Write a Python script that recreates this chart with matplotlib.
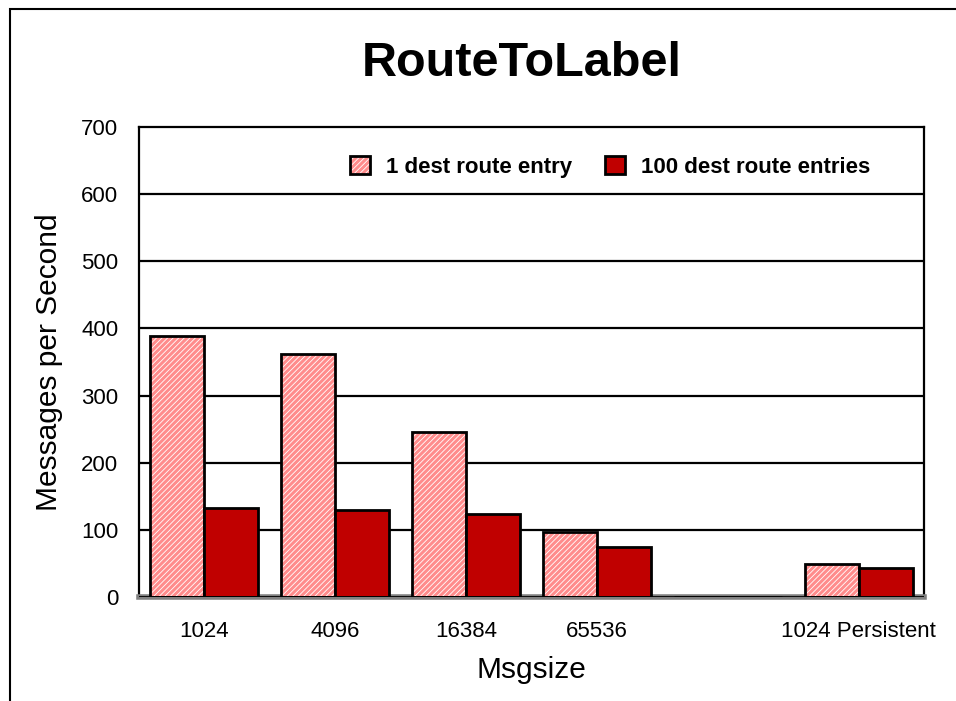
import numpy as np
import matplotlib.pyplot as plt
from matplotlib.patches import Patch, Rectangle
from matplotlib.legend_handler import HandlerTuple

plt.rcParams["font.family"] = ["Liberation Sans", "DejaVu Sans"]
plt.rcParams["hatch.linewidth"] = 0.6

# values
categories = ["1024", "4096", "16384", "65536", "", "1024 Persistent"]
one_dest = [388, 362, 246, 97, 0, 49]
hundred_dest = [132, 129, 124, 74, 0, 43]
series_names = ["1 dest route entry", "100 dest route entries"]

PINK = "#ff8c8c"
RED = "#c00000"

fig = plt.figure(figsize=(9.56, 7.01), dpi=100)
ax = fig.add_axes([139 / 956, 1 - 597 / 701, 785 / 956, 470 / 701])

x = np.arange(len(categories))
w = 0.413

# pink bars: speckled fill first, then the black outline on top
ax.bar(x - w / 2, one_dest, w, color=PINK, edgecolor="white", hatch="//////", linewidth=0, zorder=3)
ax.bar(x - w / 2, one_dest, w, fill=False, edgecolor="black", linewidth=2, zorder=4)
ax.bar(x + w / 2, hundred_dest, w, color=RED, edgecolor="black", linewidth=2, zorder=4)

ax.set_xlim(-0.5, len(categories) - 0.5)
ax.set_ylim(0, 700)
ax.set_yticks(range(0, 701, 100))
ax.set_xticks(x)
ax.set_xticklabels(categories)
ax.tick_params(axis="y", length=0, pad=15, labelsize=16)
ax.tick_params(axis="x", length=0, pad=17, labelsize=16)

# gridlines
for v in range(100, 700, 100):
    ax.axhline(v, color="black", linewidth=1.6, zorder=1)

for side in ["left", "top", "right"]:
    ax.spines[side].set_linewidth(1.6)
ax.spines["bottom"].set_color("#808080")
ax.spines["bottom"].set_linewidth(4)
ax.axhline(0, color="black", linewidth=2, zorder=5)

ax.set_xlabel("Msgsize", fontsize=21.5, labelpad=10)
ax.set_ylabel("Messages per Second", fontsize=21.5, labelpad=13)

fig.text(522 / 956, 1 - 63 / 701, "RouteToLabel", fontsize=35, fontweight="bold",
         ha="center", va="center")

# legend
h_pink = (Patch(facecolor=PINK, edgecolor="white", hatch="//////", linewidth=0),
          Patch(fill=False, edgecolor="black", linewidth=2))
h_red = Patch(facecolor=RED, edgecolor="black", linewidth=2)
leg = ax.legend([h_pink, h_red], series_names, handler_map={tuple: HandlerTuple(ndivide=1, pad=0)},
                ncol=2, frameon=False, loc="center", bbox_to_anchor=(0.6, 0.915),
                prop={"size": 16, "weight": "bold"}, handlelength=0.9, handleheight=0.9,
                handletextpad=0.7, columnspacing=1.5)

# outer chart border (left and top visible)
fig.patches.append(Rectangle((10 / 956, -0.1), 1.2, 1.1 - 9 / 701, transform=fig.transFigure,
                             fill=False, edgecolor="black", linewidth=1.5))

fig.savefig("out.png", dpi=100)
